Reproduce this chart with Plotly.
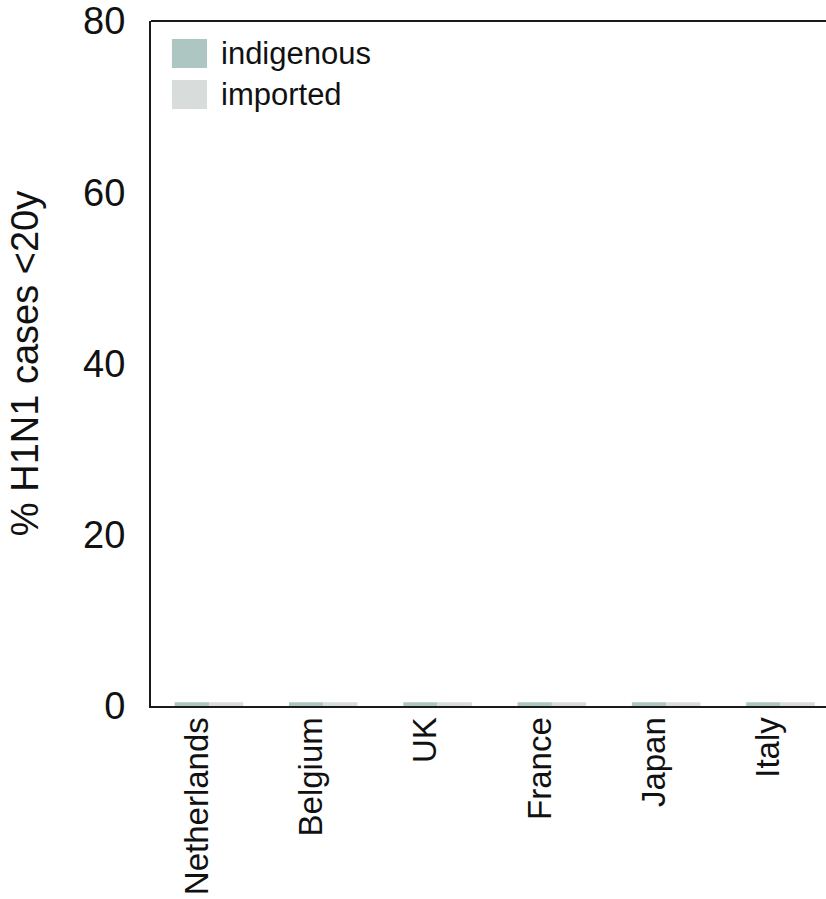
import plotly.graph_objects as go

countries = ["Netherlands", "Belgium", "UK", "France", "Japan", "Italy"]
series_names = ["indigenous", "imported"]
indigenous = [0.45, 0.45, 0.45, 0.45, 0.45, 0.45]
imported = [0.45, 0.45, 0.45, 0.45, 0.45, 0.45]
colors = ["#aec6c1", "#d8dddc"]
y_ticks = [0, 20, 40, 60, 80]

FONT = "Liberation Sans, Arial, sans-serif"
AXIS_COLOR = "#1a1a1a"

fig = go.Figure()
for name, vals, col in zip(series_names, [indigenous, imported], colors):
    fig.add_trace(go.Bar(x=countries, y=vals, name=name, marker=dict(color=col, line=dict(width=0)),
                         showlegend=False))

# legend drawn as decoration (large swatches)
sw_x0, sw_x1 = 0.031, 0.083
rows = [(0.9737, 0.9314), (0.9139, 0.8715)]
for (y1, y0), name, col in zip(rows, series_names, colors):
    fig.add_shape(type="rect", xref="paper", yref="paper", x0=sw_x0, x1=sw_x1, y0=y0, y1=y1,
                  fillcolor=col, line=dict(width=0))
    fig.add_annotation(xref="paper", yref="paper", x=0.1007, y=(y0 + y1) / 2, text=name,
                       showarrow=False, xanchor="left", yanchor="middle",
                       font=dict(family=FONT, size=31, color="#111"))

# top frame line
fig.add_shape(type="line", xref="paper", yref="paper", x0=0, x1=1.02, y0=1, y1=1,
              line=dict(color=AXIS_COLOR, width=2))

fig.update_layout(
    template="none",
    width=826, height=899,
    margin=dict(l=151, r=0, t=21, b=193, pad=0),
    plot_bgcolor="white", paper_bgcolor="white",
    barmode="group", bargap=0.4, bargroupgap=0,
    font=dict(family=FONT, color="#111"),
    showlegend=False,
)
fig.update_xaxes(
    type="category", range=[-0.507, 5.398], automargin=False,
    showline=True, linecolor=AXIS_COLOR, linewidth=2, mirror=False,
    ticks="", tickangle=-90, tickfont=dict(size=33, family=FONT, color="#111"),
    ticklabelstandoff=-4, ticklabelshift=-12,
    showgrid=False, zeroline=False,
)
fig.update_yaxes(
    range=[0, 80], tickvals=y_ticks, automargin=False,
    showline=True, linecolor=AXIS_COLOR, linewidth=2, mirror=False,
    ticks="", tickfont=dict(size=38, family=FONT, color="#111"),
    ticklabelstandoff=16,
    title=dict(text="% H1N1 cases <20y", font=dict(size=38, family=FONT, color="#111"), standoff=33),
    showgrid=False, zeroline=False,
)

fig.write_html("out.html", config={"displayModeBar": False},
               post_script="document.body.style.margin='0';document.body.style.overflow='hidden';")
